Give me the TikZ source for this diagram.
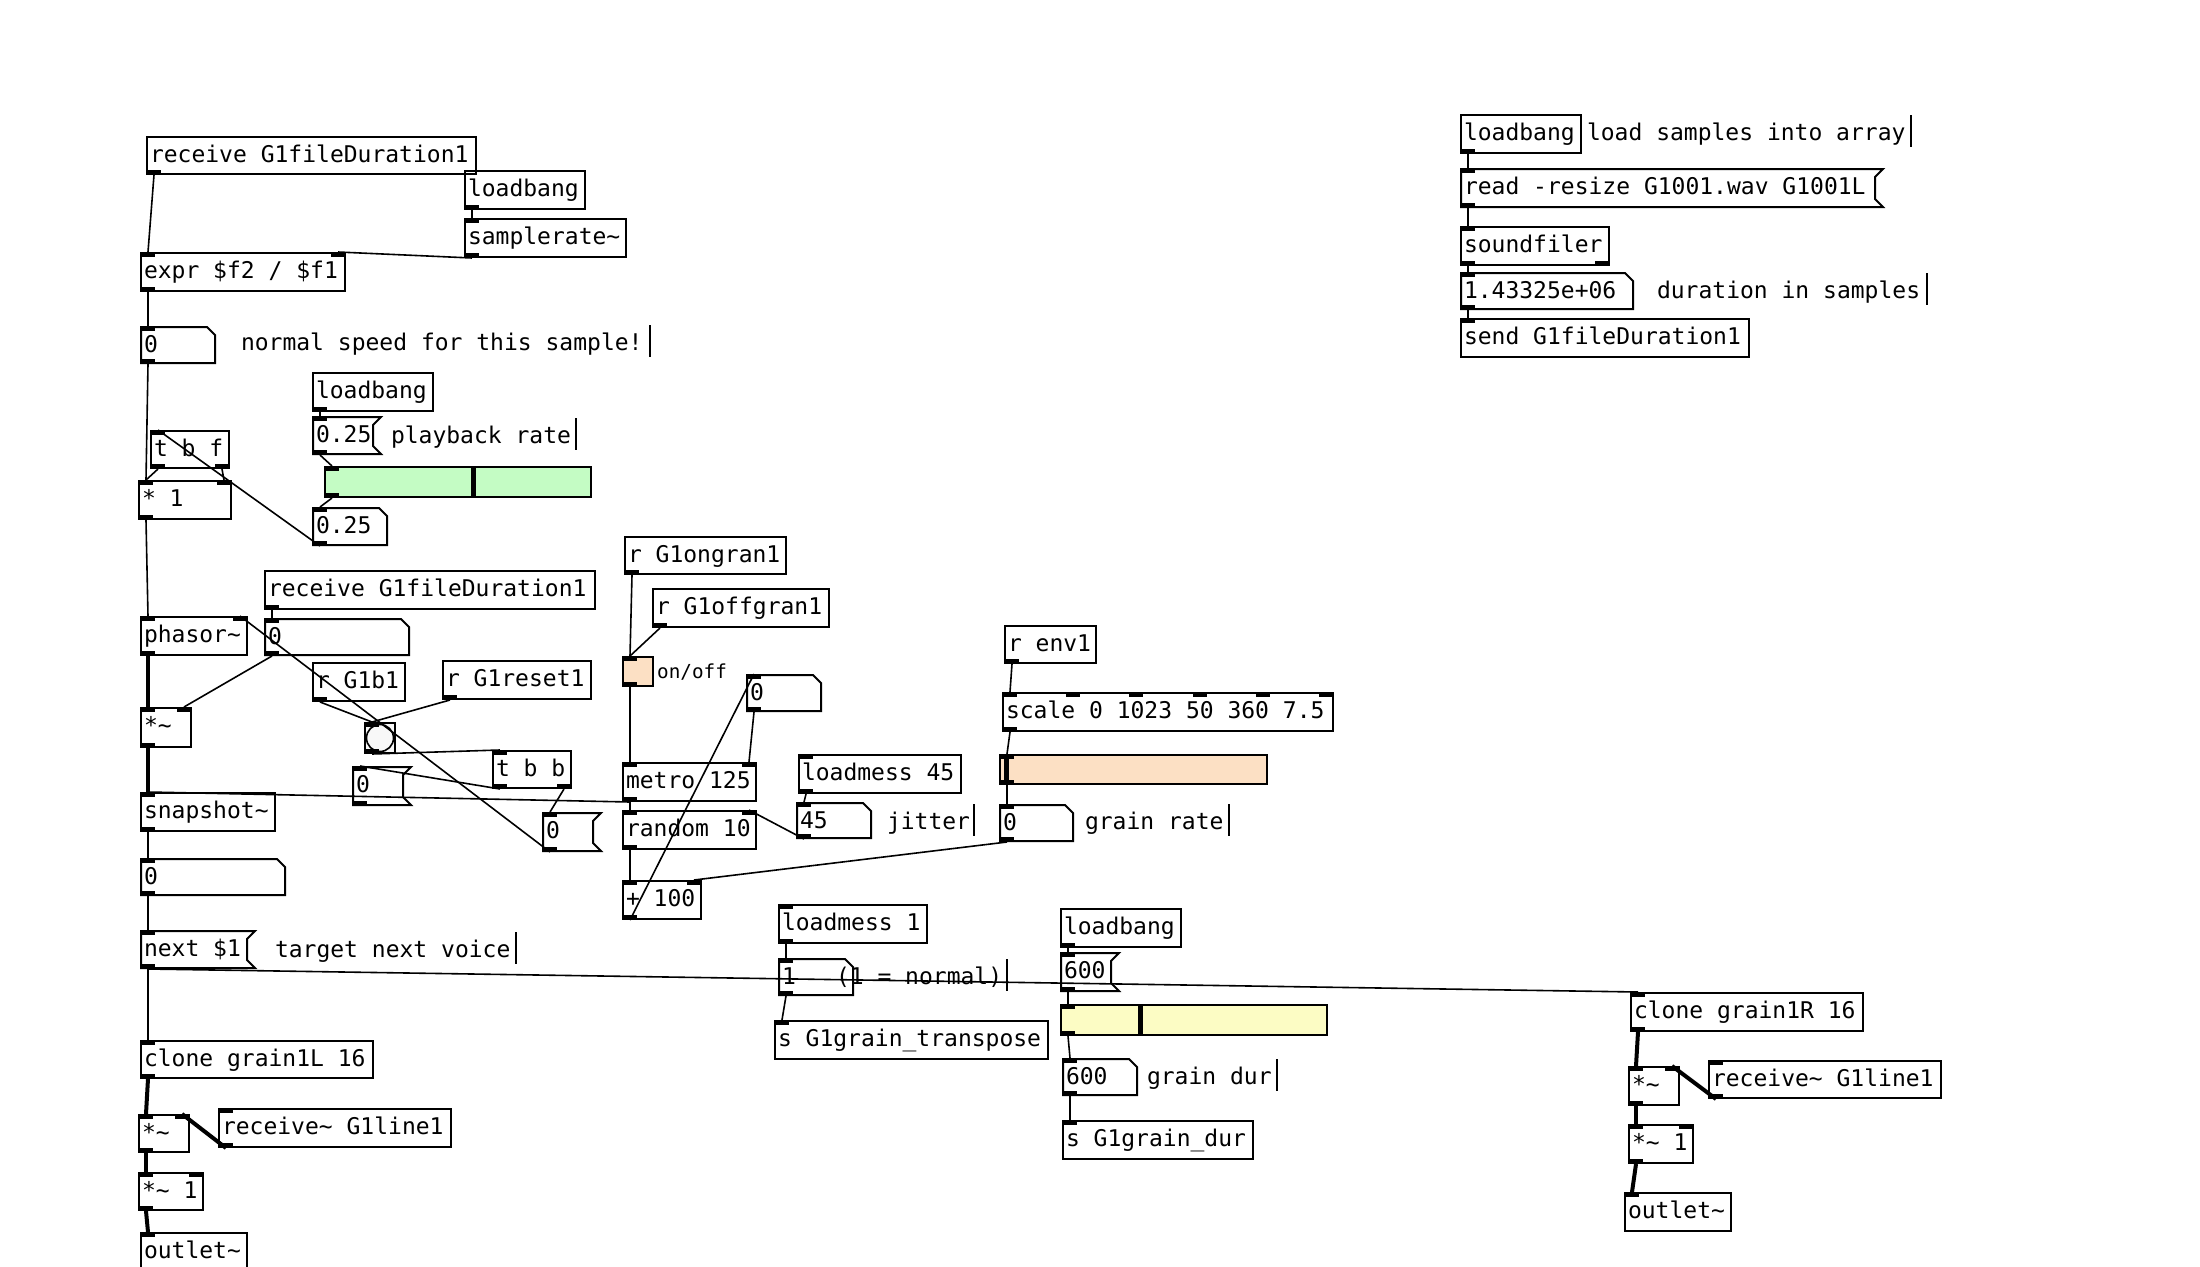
\documentclass[tikz,border=0pt]{standalone}
\usepackage{fontspec}
\newfontfamily\pdmono{DejaVu Sans Mono}
\usetikzlibrary{fit}
\newcommand\pdfnt{\pdmono\fontsize{23pt}{27pt}\selectfont}
\newcommand\pdsmall{\pdmono\fontsize{19.3pt}{23pt}\selectfont}
\newcommand\tld{\char"7E\relax}
\definecolor{slgreen}{HTML}{C4FCC4}
\definecolor{slorange}{HTML}{FCE0C4}
\definecolor{slyellow}{HTML}{FCFCC4}
\definecolor{bangbg}{HTML}{F8F8F8}
\tikzset{
  pdline/.style={line width=2pt, draw=black},
  iolet/.style={fill=black, draw=none, minimum width=14pt, minimum height=5pt, inner sep=0pt, outer sep=0pt, rectangle},
  pdtxt/.style={font=\pdfnt, inner sep=0pt, outer sep=0pt, anchor=base west},
  pdframe/.style={inner sep=0pt, outer sep=0pt, rectangle},
  conn/.style={line width=1.6pt},
  sig/.style={line width=4pt},
  cursorbar/.style={line width=2pt},
}
% row of iolets: prefix, x1, x2, y, n, anchor
\newcommand\pdrow[6]{%
  \ifnum#5=1\relax
    \node[iolet, anchor=#6] (#11) at (#2,#4) {};%
  \else\ifnum#5>1\relax
    \foreach \k in {1,...,#5}{%
      \pgfmathsetmacro\xx{#2+(#3-#2-14)*(\k-1)/(#5-1)}%
      \node[iolet, anchor=#6] (#1\k) at (\xx,#4) {};%
    }%
  \fi\fi
}
% name x1 y1 x2 y2 nin nout
\newcommand\pdio[7]{%
  \pdrow{#1-i}{#2}{#4}{#3-1}{#6}{north west}%
  \pdrow{#1-o}{#2}{#4}{#5+1}{#7}{south west}%
}
% object box
\newcommand\pdobj[8]{%
  \node[pdframe, pdline, fit={(#2,#3) (#4,#5)}] (#1) {};
  \node[pdtxt] (#1-t) at (#2+3,#3+25) {#8};
  \pdio{#1}{#2}{#3}{#4}{#5}{#6}{#7}%
}
% number (atom) box
\newcommand\pdnum[6]{%
  \node[pdframe, fit={(#2,#3) (#4,#5)}] (#1) {};
  \draw[pdline] (#2,#3) -- (#4-8,#3) -- (#4,#3+8) -- (#4,#5) -- (#2,#5) -- cycle;
  \node[pdtxt] (#1-t) at (#2+3,#3+25) {#6};
  \pdio{#1}{#2}{#3}{#4}{#5}{1}{1}%
}
% message box
\newcommand\pdmsg[6]{%
  \node[pdframe, fit={(#2,#3) (#4,#5)}] (#1) {};
  \draw[pdline] (#2,#3) -- (#4+8,#3) -- (#4,#3+8) -- (#4,#5-8) -- (#4+8,#5) -- (#2,#5) -- cycle;
  \node[pdtxt] (#1-t) at (#2+3,#3+25) {#6};
  \pdio{#1}{#2}{#3}{#4}{#5}{1}{1}%
}
% comment: name x baseline cursorx text
\newcommand\pdcom[5]{%
  \node[pdtxt] (#1) at (#2,#3) {#5};
  \draw[cursorbar] (#4,#3-25) -- (#4,#3+7);
}
% slider: name x1 y1 x2 y2 knobx colour
\newcommand\pdslider[7]{%
  \node[pdframe, pdline, fill=#7, fit={(#2,#3) (#4,#5)}] (#1) {};
  \fill (#6-2.5,#3+1) rectangle (#6+2.5,#5-1);
  \pdio{#1}{#2}{#3}{#4}{#5}{1}{1}%
}
\begin{document}
\begin{tikzpicture}[x=1pt,y=-1pt]
\fill[white] (0,0) rectangle (2200,1266);
\useasboundingbox (0,0) rectangle (2200,1266);

% ---------- left column ----------
\pdobj{A}{147}{137}{476}{174}{0}{1}{receive G1fileDuration1}
\pdobj{B}{465}{171}{585}{209}{0}{1}{loadbang}
\pdobj{C}{465}{219}{626}{257}{1}{1}{samplerate\tld}
\pdobj{D}{141}{253}{345}{291}{2}{1}{expr \$f2 / \$f1}
\pdnum{E}{141}{327}{215}{363}{0}
\pdcom{E-c}{241}{350}{650}{normal speed for this sample!}
\pdobj{F}{313}{373}{433}{411}{0}{1}{loadbang}
\pdmsg{G}{313}{417}{373}{454}{0.25}
\pdcom{G-c}{391}{443}{576}{playback rate}
\pdslider{H}{325}{467}{591}{497}{473}{slgreen}
\pdobj{I}{151}{431}{229}{468}{1}{2}{t b f}
\pdobj{J}{139}{481}{231}{519}{2}{1}{* 1}
\pdnum{K}{313}{508}{387}{545}{0.25}
\pdobj{L}{265}{571}{595}{609}{0}{1}{receive G1fileDuration1}
\pdobj{M}{141}{617}{247}{655}{2}{1}{phasor\tld}
\pdnum{N}{265}{619}{409}{655}{0}
\pdobj{O}{141}{708}{191}{747}{2}{1}{*\tld}
\pdobj{P}{313}{663}{405}{701}{0}{1}{r G1b1}
\pdobj{Q}{443}{661}{591}{699}{0}{1}{r G1reset1}
% bang
\node[pdframe, pdline, fill=bangbg, fit={(365,723) (395,753)}] (R) {};
\draw[line width=1.6pt, fill=bangbg] (R.center) circle[radius=13.5pt];
\pdio{R}{365}{723}{395}{753}{1}{1}
\pdobj{S}{493}{751}{571}{788}{1}{2}{t b b}
\pdmsg{T}{353}{767}{403}{805}{0}
\pdobj{U}{141}{793}{275}{831}{1}{1}{snapshot\tld}
\pdnum{V}{141}{859}{285}{895}{0}
\pdmsg{W}{543}{813}{593}{851}{0}
\pdmsg{X}{141}{931}{247}{968}{next \$1}
\pdcom{X-c}{275}{957}{516}{target next voice}
\pdobj{Y}{141}{1041}{373}{1078}{1}{1}{clone grain1L 16}
\pdobj{Z}{139}{1115}{189}{1152}{2}{1}{*\tld}
\pdobj{AA}{219}{1109}{451}{1147}{1}{1}{receive\tld{} G1line1}
\pdobj{AB}{139}{1173}{203}{1210}{2}{1}{*\tld{} 1}
\pdobj{AC}{141}{1233}{247}{1271}{1}{0}{outlet\tld}

% ---------- middle ----------
\pdobj{AD}{625}{537}{786}{574}{0}{1}{r G1ongran1}
\pdobj{AE}{653}{589}{829}{627}{0}{1}{r G1offgran1}
\node[pdframe, pdline, fill=slorange, fit={(623,657) (653,686)}] (AF) {};
\pdio{AF}{623}{657}{653}{686}{1}{1}
\node[font=\pdsmall, anchor=base west, inner sep=0pt] (AF-l) at (657,678) {on/off};
\pdnum{AG}{747}{675}{821}{711}{0}
\pdobj{AH}{623}{763}{756}{801}{2}{1}{metro 125}
\pdobj{AI}{623}{811}{756}{849}{2}{1}{random 10}
\pdobj{AJ}{623}{881}{701}{919}{2}{1}{+ 100}
\pdobj{AK}{799}{755}{961}{793}{1}{1}{loadmess 45}
\pdnum{AL}{797}{803}{871}{838}{45}
\pdcom{AL-c}{887}{829}{974}{jitter}
\pdobj{AM}{1005}{626}{1096}{663}{0}{1}{r env1}
\pdobj{AN}{1003}{693}{1333}{731}{6}{1}{scale 0 1023 50 360 7.5}
\pdslider{AO}{1000}{755}{1267}{784}{1006}{slorange}
\pdnum{AP}{1000}{805}{1073}{841}{0}
\pdcom{AP-c}{1085}{829}{1229}{grain rate}
\pdobj{AQ}{779}{905}{927}{943}{1}{1}{loadmess 1}
\pdnum{AR}{779}{959}{853}{995}{1}
\pdcom{AR-c}{836}{984}{1007}{(1 = normal)}
\pdobj{AS}{775}{1021}{1048}{1059}{1}{0}{s G1grain\_transpose}
\pdobj{AT}{1061}{909}{1181}{947}{0}{1}{loadbang}
\pdmsg{AU}{1061}{953}{1111}{991}{600}
\pdslider{AV}{1061}{1005}{1327}{1035}{1140}{slyellow}
\pdnum{AW}{1063}{1059}{1137}{1095}{600}
\pdcom{AW-c}{1147}{1084}{1277}{grain dur}
\pdobj{AX}{1063}{1121}{1253}{1159}{1}{0}{s G1grain\_dur}

% ---------- right ----------
\pdobj{AY}{1461}{115}{1581}{153}{0}{1}{loadbang}
\pdcom{AY-c}{1587}{140}{1911}{load samples into array}
\pdmsg{AZ}{1461}{169}{1875}{207}{read -resize G1001.wav G1001L}
\pdobj{BA}{1461}{227}{1609}{265}{1}{2}{soundfiler}
\pdnum{BB}{1461}{273}{1633}{309}{1.43325e+06}
\pdcom{BB-c}{1657}{298}{1927}{duration in samples}
\pdobj{BC}{1461}{319}{1749}{357}{1}{0}{send G1fileDuration1}
\pdobj{BD}{1631}{993}{1863}{1031}{1}{1}{clone grain1R 16}
\pdobj{BE}{1629}{1067}{1679}{1105}{2}{1}{*\tld}
\pdobj{BF}{1709}{1061}{1941}{1098}{1}{1}{receive\tld{} G1line1}
\pdobj{BG}{1629}{1125}{1693}{1163}{2}{1}{*\tld{} 1}
\pdobj{BH}{1625}{1193}{1731}{1231}{1}{0}{outlet\tld}

% ---------- control connections ----------
\draw[conn] (A-o1.south) -- (D-i1.north);
\draw[conn] (B-o1.south) -- (C-i1.north);
\draw[conn] (C-o1.south) -- (D-i2.north);
\draw[conn] (D-o1.south) -- (E-i1.north);
\draw[conn] (E-o1.south) -- (J-i1.north);
\draw[conn] (I-o1.south) -- (J-i1.north);
\draw[conn] (I-o2.south) -- (J-i2.north);
\draw[conn] (K-o1.south) -- (I-i1.north);
\draw[conn] (F-o1.south) -- (G-i1.north);
\draw[conn] (G-o1.south) -- (H-i1.north);
\draw[conn] (H-o1.south) -- (K-i1.north);
\draw[conn] (J-o1.south) -- (M-i1.north);
\draw[conn] (L-o1.south) -- (N-i1.north);
\draw[conn] (N-o1.south) -- (O-i2.north);
\draw[conn] (W-o1.south) -- (M-i2.north);
\draw[conn] (P-o1.south) -- (R-i1.north);
\draw[conn] (Q-o1.south) -- (R-i1.north);
\draw[conn] (R-o1.south) -- (S-i1.north);
\draw[conn] (S-o1.south) -- (T-i1.north);
\draw[conn] (S-o2.south) -- (W-i1.north);
\draw[conn] (AH-o1.south) -- (U-i1.north);
\draw[conn] (U-o1.south) -- (V-i1.north);
\draw[conn] (V-o1.south) -- (X-i1.north);
\draw[conn] (X-o1.south) -- (Y-i1.north);
\draw[conn] (X-o1.south) -- (BD-i1.north);
\draw[conn] (AD-o1.south) -- (AF-i1.north);
\draw[conn] (AE-o1.south) -- (AF-i1.north);
\draw[conn] (AF-o1.south) -- (AH-i1.north);
\draw[conn] (AG-o1.south) -- (AH-i2.north);
\draw[conn] (AJ-o1.south) -- (AG-i1.north);
\draw[conn] (AH-o1.south) -- (AI-i1.north);
\draw[conn] (AI-o1.south) -- (AJ-i1.north);
\draw[conn] (AL-o1.south) -- (AI-i2.north);
\draw[conn] (AK-o1.south) -- (AL-i1.north);
\draw[conn] (AP-o1.south) -- (AJ-i2.north);
\draw[conn] (AM-o1.south) -- (AN-i1.north);
\draw[conn] (AN-o1.south) -- (AO-i1.north);
\draw[conn] (AO-o1.south) -- (AP-i1.north);
\draw[conn] (AQ-o1.south) -- (AR-i1.north);
\draw[conn] (AR-o1.south) -- (AS-i1.north);
\draw[conn] (AT-o1.south) -- (AU-i1.north);
\draw[conn] (AU-o1.south) -- (AV-i1.north);
\draw[conn] (AV-o1.south) -- (AW-i1.north);
\draw[conn] (AW-o1.south) -- (AX-i1.north);
\draw[conn] (AY-o1.south) -- (AZ-i1.north);
\draw[conn] (AZ-o1.south) -- (BA-i1.north);
\draw[conn] (BA-o1.south) -- (BB-i1.north);
\draw[conn] (BB-o1.south) -- (BC-i1.north);

% ---------- signal connections ----------
\draw[sig] (M-o1.south) -- (O-i1.north);
\draw[sig] (O-o1.south) -- (U-i1.north);
\draw[sig] (Y-o1.south) -- (Z-i1.north);
\draw[sig] (AA-o1.south) -- (Z-i2.north);
\draw[sig] (Z-o1.south) -- (AB-i1.north);
\draw[sig] (AB-o1.south) -- (AC-i1.north);
\draw[sig] (BD-o1.south) -- (BE-i1.north);
\draw[sig] (BF-o1.south) -- (BE-i2.north);
\draw[sig] (BE-o1.south) -- (BG-i1.north);
\draw[sig] (BG-o1.south) -- (BH-i1.north);
\end{tikzpicture}
\end{document}
